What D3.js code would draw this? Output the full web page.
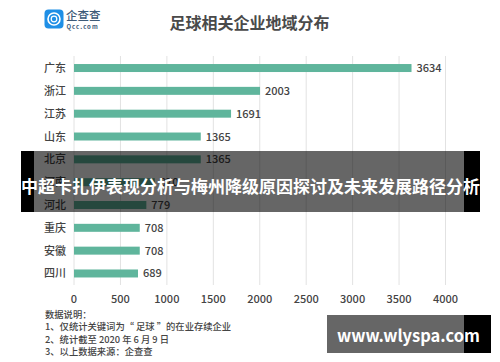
<!DOCTYPE html>
<html><head><meta charset="utf-8"><script src="https://cdn.jsdelivr.net/npm/d3@7"></script>
<style>html,body{margin:0;padding:0;background:#fff}svg{display:block}text{font-family:"Noto Sans CJK SC","Noto Sans",sans-serif}</style></head>
<body><svg id="c" width="500" height="362"></svg>
<script>
const categories=["广东","浙江","江苏","山东","北京","河南","河北","重庆","安徽","四川"];
const values=[3634,2003,1691,1365,1365,870,779,708,708,689];
const xTicks=[0,500,1000,1500,2000,2500,3000,3500,4000];
const notes=["数据说明：","1、仅统计关键词为“ 足球 ”的在业存续企业","2、统计截至 2020 年 6 月 9 日","3、以上数据来源：企查查"];
const titleText="足球相关企业地域分布";
const overlayTitle="中超卡扎伊表现分析与梅州降级原因探讨及未来发展路径分析";
const siteText="www.wlyspa.com";
const svg=d3.select("#c");
const x=d3.scaleLinear().domain([0,4000]).range([74,445.5]);
const y=d3.scaleBand().domain(categories).range([56.5,285]).paddingInner(0.65).paddingOuter(0.33);
svg.append("g").selectAll("line").data(xTicks).join("line")
 .attr("x1",d=>x(d)).attr("x2",d=>x(d)).attr("y1",56).attr("y2",285).attr("stroke","#e2e2e2").attr("stroke-width",1);
svg.append("g").selectAll("rect").data(values).join("rect")
 .attr("x",x(0)).attr("width",d=>x(d)-x(0)).attr("y",(d,i)=>y(categories[i])).attr("height",y.bandwidth()).attr("fill","#5fb59c");
svg.append("g").selectAll("text").data(values).join("text")
 .attr("x",d=>x(d)+5).attr("y",(d,i)=>y(categories[i])+y.bandwidth()/2+4).attr("font-size",11).attr("font-weight",500).attr("fill","#444").text(d=>d);
svg.append("g").selectAll("text").data(categories).join("text")
 .attr("x",66).attr("text-anchor","end").attr("y",d=>y(d)+y.bandwidth()/2+4).attr("font-size",11).attr("font-weight",500).attr("fill","#444").text(d=>d);
svg.append("g").selectAll("text").data(xTicks).join("text")
 .attr("x",d=>x(d)).attr("text-anchor","middle").attr("y",303).attr("font-size",11).attr("font-weight",500).attr("fill","#444").text(d=>d);
svg.append("text").attr("x",249.5).attr("y",28.5).attr("text-anchor","middle").attr("font-size",16).attr("font-weight",700).attr("fill","#4a4a4a").text(titleText);
// logo
svg.append("rect").attr("x",44.5).attr("y",9.5).attr("width",19).attr("height",19).attr("rx",4).attr("fill","#1f8fe6");
svg.append("circle").attr("cx",54).attr("cy",19).attr("r",6).attr("fill","none").attr("stroke","#fff").attr("stroke-width",1.6);
svg.append("circle").attr("cx",54).attr("cy",19).attr("r",2.8).attr("fill","none").attr("stroke","#fff").attr("stroke-width",1.2);
svg.append("text").attr("x",66).attr("y",20).attr("font-size",11.5).attr("font-weight",500).attr("fill","#3d5a78").text("企查查");
svg.append("text").attr("x",66.5).attr("y",29).attr("font-size",6).attr("letter-spacing",1).attr("font-weight",700).attr("fill","#3d5a78").text("Qcc.com");
svg.append("g").selectAll("text").data(notes).join("text")
 .attr("x",45).attr("y",(d,i)=>318+i*12.4).attr("font-size",9.3).attr("font-weight",500).attr("fill","#444").text(d=>d);
// overlay banner
svg.append("rect").attr("x",34).attr("y",151).attr("width",430).attr("height",61).attr("fill","#000").attr("fill-opacity",0.6);
svg.append("rect").attr("x",21).attr("y",151).attr("width",13).attr("height",61).attr("fill","#000");
svg.append("rect").attr("x",464).attr("y",151).attr("width",16).attr("height",61).attr("fill","#000");
svg.append("text").attr("x",250.5).attr("y",193).attr("text-anchor","middle").attr("font-size",17).attr("font-weight",700).attr("fill","#fff").text(overlayTitle);
// site badge
svg.append("rect").attr("x",327).attr("y",315).attr("width",137).attr("height",38).attr("fill","#000").attr("fill-opacity",0.6);
svg.append("rect").attr("x",464).attr("y",315).attr("width",27).attr("height",38).attr("fill","#000");
svg.append("text").attr("x",408.5).attr("y",342).attr("text-anchor","middle").attr("font-size",16.5).attr("font-family","'Open Sans',sans-serif").attr("font-weight",700).attr("fill","#fff").text(siteText);
</script>
</body></html>
